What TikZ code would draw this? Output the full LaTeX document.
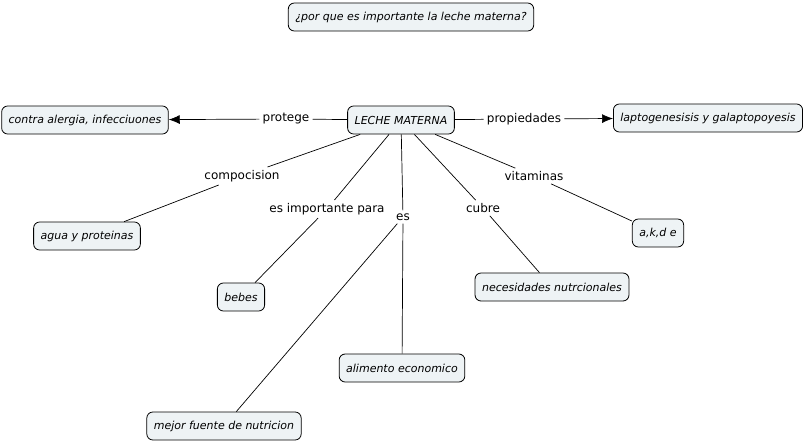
\documentclass[tikz,border=0pt]{standalone}
\usepackage{fontspec}
\setmainfont{DejaVu Sans}
\usetikzlibrary{arrows.meta}
\definecolor{conceptfill}{RGB}{238,243,245}
\tikzset{
    concept/.style={draw=black, fill=conceptfill, rounded corners=6pt, line width=0.8pt,
        inner xsep=7pt, minimum height=28pt, font=\fontsize{11}{13}\selectfont\itshape},
    linkword/.style={inner sep=3pt, font=\fontsize{12}{14}\selectfont},
    link/.style={line width=0.7pt},
    linkarrow/.style={line width=0.7pt, -{Latex[length=11pt,width=9pt]}}
}
\begin{document}
\begin{tikzpicture}[x=1pt,y=-1pt]
    % Fix the page size
    \useasboundingbox (0,0) rectangle (805,444);

    % Concepts
    \node[concept] (question) at (411,17) {¿por que es importante la leche materna?};
    \node[concept] (leche) at (401,120) {LECHE MATERNA};
    \node[concept] (alergia) at (85,120) {contra alergia, infecciuones};
    \node[concept] (lapto) at (708,118) {laptogenesisis y galaptopoyesis};
    \node[concept] (agua) at (87,236) {agua y proteinas};
    \node[concept] (bebes) at (241,297) {bebes};
    \node[concept] (alimento) at (402,368) {alimento economico};
    \node[concept] (fuente) at (224,426) {mejor fuente de nutricion};
    \node[concept] (necesidades) at (552,287) {necesidades nutrcionales};
    \node[concept] (akde) at (658,233) {a,k,d e};

    % Linking words
    \node[linkword] (protege) at (286,119) {protege};
    \node[linkword] (propiedades) at (524,119) {propiedades};
    \node[linkword] (compocision) at (242,176) {compocision};
    \node[linkword] (importante) at (327,209) {es importante para};
    \node[linkword] (es) at (403,217) {es};
    \node[linkword] (cubre) at (483,208) {cubre};
    \node[linkword] (vitaminas) at (534,176) {vitaminas};

    % Connect them
    \draw[link] (leche) -- (protege);
    \draw[linkarrow] (protege) -- (alergia);
    \draw[link] (leche) -- (propiedades);
    \draw[linkarrow] (propiedades) -- (lapto);
    \draw[link] (leche) -- (compocision) -- (agua);
    \draw[link] (leche) -- (importante) -- (bebes);
    \draw[link] (leche) -- (es) -- (alimento);
    \draw[link] (es) -- (fuente);
    \draw[link] (leche) -- (cubre) -- (necesidades);
    \draw[link] (leche) -- (vitaminas) -- (akde);

\end{tikzpicture}
\end{document}
